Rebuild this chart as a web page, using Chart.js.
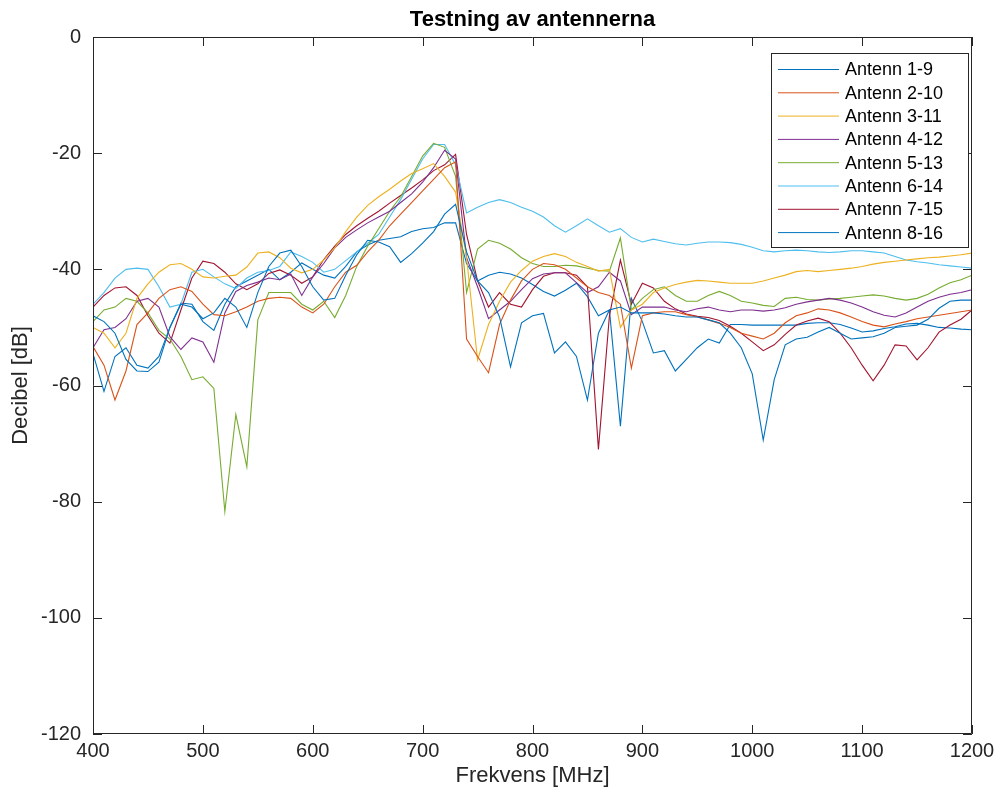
<!DOCTYPE html>
<html>
<head>
<meta charset="utf-8">
<title>Testning av antennerna</title>
<script src="https://cdn.jsdelivr.net/npm/chart.js@4.4.1/dist/chart.umd.min.js"></script>
<style>
  html, body { margin: 0; padding: 0; background: #fff; }
  #wrap { width: 997px; height: 794px; }
</style>
</head>
<body>
<div id="wrap"><canvas id="antChart" width="997" height="794"></canvas></div>
<script>
/* ===== DATA ===== */
const freqMHz = [
  400, 410, 420, 430, 440, 450, 460, 470, 480, 490,
  500, 510, 520, 530, 540, 550, 560, 570, 580, 590,
  600, 610, 620, 630, 640, 650, 660, 670, 680, 690,
  700, 710, 720, 730, 740, 750, 760, 770, 780, 790,
  800, 810, 820, 830, 840, 850, 860, 870, 880, 890,
  900, 910, 920, 930, 940, 950, 960, 970, 980, 990,
  1000, 1010, 1020, 1030, 1040, 1050, 1060, 1070, 1080, 1090,
  1100, 1110, 1120, 1130, 1140, 1150, 1160, 1170, 1180, 1190,
  1200
];

const ant1_9 = [
  -48, -49, -51, -55.5, -57.5, -57.6, -56, -50, -46, -46.5,
  -48.5, -47.5, -45, -46.5, -50, -44, -39.5, -37.2, -36.7, -39.5,
  -43, -45.3, -45, -41, -37.5, -35, -35.3, -36.1, -38.8, -37.3,
  -35.5, -33.5, -30.5, -28.8, -37, -42, -44, -48.2, -56.8, -49.2,
  -48, -47.6, -54.4, -52.5, -55, -62.5, -51, -47, -46.5, -47.5,
  -47.5, -47.5, -47.7, -48, -48.2, -48.2, -48.7, -49.2, -51, -53.5,
  -58, -69.4, -59, -53, -52, -51.7, -50.8, -50, -51, -52,
  -51.8, -51.6, -51, -50, -49.8, -49.6, -48.6, -46.7, -45.5, -45.3,
  -45.3
];

const ant2_10 = [
  -53.3, -56.5, -62.5, -57.5, -49.5, -47.5, -45, -43.5, -43, -43.8,
  -46, -47.8, -48, -47.3, -46.5, -45.5, -45, -44.8, -45, -46.5,
  -47.5, -46, -43, -40.5, -39.3, -37, -35, -32.5, -30.5, -28.5,
  -26.5, -24.5, -22.5, -21.5, -52, -55, -57.8, -49.5, -45.3, -42,
  -40, -39, -39.2, -40, -41.5, -43, -44, -44.5, -46, -57,
  -48, -47.5, -47.3, -47.3, -47.8, -48.2, -48.7, -49.3, -50, -51,
  -51.5, -52, -51, -49.2, -48, -47.5, -46.8, -47, -47.5, -48.2,
  -49, -49.6, -49.9, -49.4, -49, -48.5, -48.2, -47.9, -47.6, -47.3,
  -47
];

const ant3_11 = [
  -50, -51, -53.5, -51, -45, -42.5, -40.5, -39.2, -39, -40,
  -41.3, -41.5, -41.2, -41, -39.6, -37.2, -37, -38, -39.8, -40.6,
  -40, -38.4, -36.3, -33.5, -31, -29, -27.5, -26.2, -24.8, -23.5,
  -22.7, -21.8, -24, -26.7, -38, -55.6, -49.5, -45.5, -42.2, -40.2,
  -38.6, -37.8, -37.3, -37.8, -38.8, -39.5, -40.3, -40, -50, -47,
  -46, -44, -43.2, -42.6, -42.2, -41.9, -42, -42.2, -42.4, -42.4,
  -42.4, -42, -41.5, -41, -40.4, -40.2, -40.4, -40.2, -40, -39.8,
  -39.5, -39.1, -38.8, -38.6, -38.4, -38.2, -38, -37.9, -37.7, -37.5,
  -37.2
];

const ant4_12 = [
  -53.5, -50.4, -50, -48.5, -45.5, -45, -46.5, -51.6, -53.8, -51.8,
  -52.5, -56, -47.5, -43.8, -42.8, -42.2, -41.5, -41.8, -40.8, -44.5,
  -41.3, -39, -36.3, -34.5, -33.2, -32, -31, -30, -28.5, -27,
  -25, -22.5, -19.5, -21, -38, -43, -48.5, -47, -45.5, -43.5,
  -41.6, -40.8, -40.6, -40.6, -42.3, -44, -43, -40.5, -42, -47.8,
  -46.5, -46.5, -46.5, -47, -47.3, -46.8, -46.5, -47, -47.3, -47,
  -47, -47.2, -47, -46.6, -46, -45.6, -45.3, -45, -45.3, -45.8,
  -46.5, -47.3, -47.9, -48.2, -47.5, -46.5, -45.5, -44.8, -44.3, -44,
  -43.5
];

const ant5_13 = [
  -49, -47, -46.5, -45, -45.5, -47.5, -50.5, -52, -55, -59,
  -58.5, -60.5, -81.7, -65, -74, -48.7, -44, -44, -44, -46,
  -47, -45.5, -48.3, -44.5, -39.5, -36, -33, -30, -27.5, -24,
  -20.5, -18.3, -19, -24, -44, -36.5, -35, -35.5, -36.5, -38,
  -39, -39.5, -39.5, -39.3, -39.4, -39.8, -40.2, -40.3, -34.6, -47,
  -45, -43.5, -43, -44.5, -45.5, -45.5, -44.5, -43.8, -44.5, -45.5,
  -45.8, -46.2, -46.4, -45, -44.8, -45.2, -45.3, -45.1, -45, -44.8,
  -44.6, -44.4, -44.6, -45, -45.3, -45, -44.3, -43.2, -42.3, -41.8,
  -41
];

const ant6_14 = [
  -46, -44, -41.5, -40, -39.8, -40, -43, -46.5, -46, -40.5,
  -40, -41.3, -42.5, -43.3, -41.5, -40.5, -40.2, -39.5, -37, -37.8,
  -38.8, -40.5, -40, -38.5, -37, -35.5, -34, -31, -28, -24.5,
  -21, -18.5, -18.5, -22, -30.3, -29.3, -28.5, -28, -28.5, -29.3,
  -30, -31, -32.5, -33.6, -32.5, -31.3, -32.5, -33.6, -33, -34.5,
  -35.3, -34.8, -35.2, -35.6, -35.8, -35.5, -35.3, -35.3, -35.4, -35.7,
  -36.2, -36.8, -37, -36.8, -36.7, -36.8, -37, -37.1, -37, -36.8,
  -36.8, -37, -37.2, -37.8, -38.4, -38.7, -38.9, -39.2, -39.4, -39.6,
  -39.8
];

const ant7_15 = [
  -46.5, -44.5, -43.2, -43, -44.5, -48, -51, -52.7, -47, -41.5,
  -38.6, -39, -40.5, -42.5, -43.5, -42.5, -40.7, -40.1, -41, -42.4,
  -41.3, -38.3, -36, -34, -32.5, -31.2, -30, -28.6, -27.3, -26,
  -24.6, -23, -22, -20.2, -34, -42, -46.5, -44, -46, -46.5,
  -43.5, -41.2, -40.6, -40.6, -41, -43, -71, -48, -38.4, -46,
  -42.4, -43.2, -45.5, -46.8, -47.7, -48.1, -48.3, -48.8, -49.8, -51,
  -52.5, -54, -53, -51.2, -49.6, -48.9, -48.4, -49, -51, -53.5,
  -56.5, -59.2, -56.5, -53, -53.2, -55.6, -53.5, -50.8, -49.6, -48.6,
  -47
];

const ant8_16 = [
  -54.5, -61, -55, -53.5, -56.5, -57, -55, -50, -45.8, -46,
  -49, -50.5, -46, -43, -42, -41, -40, -41.8, -40.5, -38.9,
  -40, -41, -41.5, -39.5, -37, -35.8, -35, -34.7, -34.4, -33.5,
  -33, -32.8, -32, -32, -39, -42, -41, -40.5, -40.8, -41.5,
  -42.6, -43.8, -44.6, -43.6, -42.4, -44.7, -48, -47, -67, -45,
  -49, -54.4, -54, -57.5, -55.5, -53.5, -52, -52.7, -49.5, -49.5,
  -49.6, -49.6, -49.6, -49.6, -49.6, -49.3, -49.2, -49.2, -49.5, -50.1,
  -50.8, -50.6, -50.2, -49.9, -49.4, -49.3, -49.6, -50, -50.1, -50.3,
  -50.4
];

const seriesNames = [
  'Antenn 1-9', 'Antenn 2-10', 'Antenn 3-11', 'Antenn 4-12',
  'Antenn 5-13', 'Antenn 6-14', 'Antenn 7-15', 'Antenn 8-16'
];
const seriesValues = [ant1_9, ant2_10, ant3_11, ant4_12, ant5_13, ant6_14, ant7_15, ant8_16];

const xTicks = [400, 500, 600, 700, 800, 900, 1000, 1100, 1200];
const yTicks = [-120, -100, -80, -60, -40, -20, 0];

// default MATLAB line order
const lineColors = ['#0072BD', '#D95319', '#EDB120', '#7E2F8E', '#77AC30', '#4DBEEE', '#A2142F', '#0072BD'];

const FONT = "'Liberation Sans', Arial, Helvetica, sans-serif";
const INK = '#262626';

/* ===== BOX + INWARD TICKS ===== */
const axesBox = {
  id: 'axesBox',
  afterDatasetsDraw(chart) {
    const { ctx, chartArea: a, scales: { x, y } } = chart;
    const len = 9;
    ctx.save();
    ctx.strokeStyle = INK;
    ctx.lineWidth = 1;
    ctx.beginPath();
    ctx.rect(Math.round(a.left) + 0.5, Math.round(a.top) + 0.5, Math.round(a.width) - 1, Math.round(a.height) - 1);
    xTicks.forEach(v => {
      const px = Math.round(x.getPixelForValue(v)) + 0.5;
      ctx.moveTo(px, a.bottom); ctx.lineTo(px, a.bottom - len);
      ctx.moveTo(px, a.top);    ctx.lineTo(px, a.top + len);
    });
    yTicks.forEach(v => {
      const py = Math.round(y.getPixelForValue(v)) + 0.5;
      ctx.moveTo(a.left, py);  ctx.lineTo(a.left + len, py);
      ctx.moveTo(a.right, py); ctx.lineTo(a.right - len, py);
    });
    ctx.stroke();
    ctx.restore();
  }
};

/* ===== LEGEND (north-east, inside axes) ===== */
const boxLegend = {
  id: 'boxLegend',
  afterDraw(chart) {
    const { ctx, chartArea: a } = chart;
    const right = a.right - 4, top = a.top + 16;
    const w = 197, rowH = 23.3, h = 194;
    const left = right - w;
    ctx.save();
    ctx.fillStyle = '#fff';
    ctx.fillRect(left, top, w, h);
    ctx.strokeStyle = INK;
    ctx.lineWidth = 1;
    ctx.strokeRect(Math.round(left) + 0.5, Math.round(top) + 0.5, w, h);
    ctx.font = '18px ' + FONT;
    ctx.textBaseline = 'middle';
    ctx.fillStyle = '#000';
    chart.data.datasets.forEach((ds, i) => {
      const cy = top + 16.5 + i * rowH;
      ctx.strokeStyle = ds.borderColor;
      ctx.lineWidth = 1;
      ctx.beginPath();
      ctx.moveTo(left + 7, cy);
      ctx.lineTo(left + 68, cy);
      ctx.stroke();
      ctx.fillText(ds.label, left + 74, cy + 1);
    });
    ctx.restore();
  }
};

/* ===== CHART ===== */
const datasets = seriesNames.map((name, i) => ({
  label: name,
  data: freqMHz.map((f, j) => ({ x: f, y: seriesValues[i][j] })),
  borderColor: lineColors[i],
  backgroundColor: lineColors[i],
  borderWidth: 1.1,
  pointRadius: 0,
  tension: 0,
  fill: false
}));

new Chart(document.getElementById('antChart'), {
  type: 'line',
  data: { datasets },
  options: {
    responsive: false,
    animation: false,
    devicePixelRatio: 1,
    layout: { padding: { left: 0, right: 25, top: 0, bottom: 0 } },
    plugins: {
      legend: { display: false },
      tooltip: { enabled: false },
      title: {
        display: true,
        text: 'Testning av antennerna',
        fullSize: false,
        color: '#000',
        font: { family: FONT, size: 22, weight: 'bold' },
        padding: { top: 7, bottom: 3.6 }
      }
    },
    scales: {
      x: {
        type: 'linear',
        min: 400, max: 1200,
        afterBuildTicks: s => { s.ticks = xTicks.map(v => ({ value: v })); },
        afterFit: s => { s.height = 60; s.paddingLeft = 0; s.paddingRight = 0; },
        grid: { display: false, drawTicks: false },
        border: { display: false },
        ticks: {
          color: INK, padding: 5, maxRotation: 0,
          font: { family: FONT, size: 20 },
          callback: v => String(v)
        },
        title: {
          display: true, text: 'Frekvens [MHz]', color: INK,
          font: { family: FONT, size: 22 }, padding: { top: 2, bottom: 5 }
        }
      },
      y: {
        type: 'linear',
        min: -120, max: 0,
        afterBuildTicks: s => { s.ticks = yTicks.map(v => ({ value: v })); },
        afterFit: s => { s.width = 93; s.paddingTop = 0; s.paddingBottom = 0; },
        grid: { display: false, drawTicks: false },
        border: { display: false },
        ticks: {
          color: INK, padding: 12,
          font: { family: FONT, size: 20 },
          callback: v => String(v)
        },
        title: {
          display: true, text: 'Decibel [dB]', color: INK,
          font: { family: FONT, size: 22 }, padding: { top: 8, bottom: 0 }
        }
      }
    }
  },
  plugins: [axesBox, boxLegend]
});
</script>
</body>
</html>
